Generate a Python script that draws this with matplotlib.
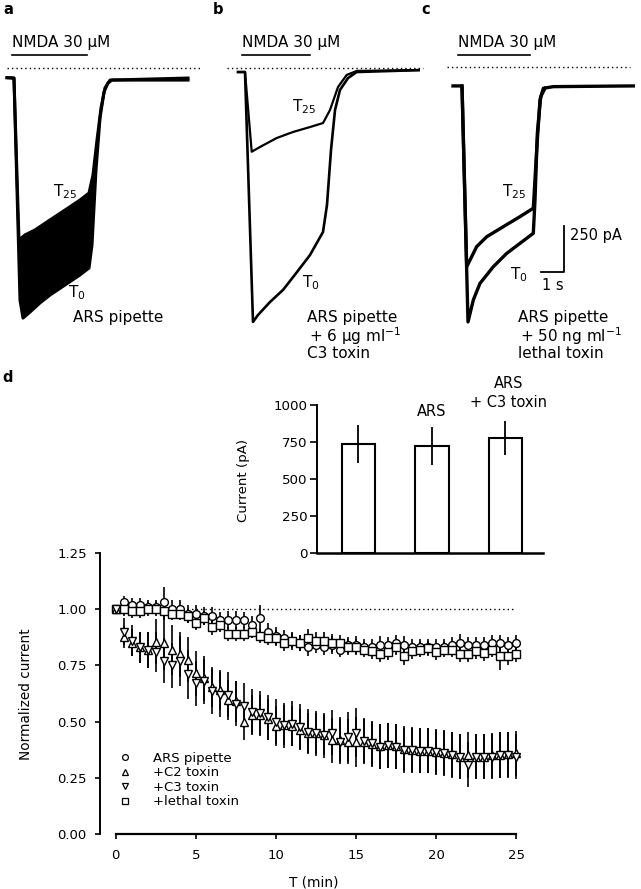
import numpy as np
import matplotlib
matplotlib.use('Agg')
import matplotlib.pyplot as plt
from matplotlib.lines import Line2D

plt.rcParams['font.family'] = ['DejaVu Sans']
plt.rcParams['mathtext.fontset'] = 'dejavusans'

# ---------------- data ----------------
# panel a: ARS pipette, band of superimposed traces (upper / lower envelope)
a_upper_t = [0.30, 0.60, 0.815, 1.073, 1.502, 2.146, 2.790, 3.433, 3.820, 3.991, 4.163, 4.335, 4.506, 4.721, 8.069]
a_upper_i = [-53, -55, -941, -913, -886, -831, -777, -722, -684, -585, -394, -219, -109, -66, -55]
a_lower_t = [0.30, 0.60, 0.858, 0.987, 1.288, 1.717, 2.146, 2.790, 3.433, 3.820, 3.948, 4.120, 4.292, 4.464, 4.635, 4.807, 8.069]
a_lower_i = [-53, -55, -1269, -1368, -1335, -1285, -1242, -1187, -1132, -1094, -968, -558, -274, -131, -82, -66, -66]

# panel b: C3 toxin, T25 and T0 traces
b_t25_t = [1.202, 1.502, 1.790, 2.146, 2.863, 3.562, 4.292, 4.850, 5.150, 5.494, 5.867, 6.296, 9.142]
b_t25_i = [-22, -22, -458, -432, -383, -350, -323, -301, -230, -104, -38, -16, -11]
b_t0_t = [1.202, 1.502, 1.845, 2.060, 2.575, 3.133, 3.734, 4.292, 4.850, 5.021, 5.193, 5.365, 5.579, 5.923, 6.296, 9.142]
b_t0_i = [-22, -22, -1389, -1351, -1280, -1214, -1116, -1023, -897, -749, -449, -230, -120, -55, -22, -11]

# panel c: lethal toxin, T25 and T0 traces
c_t25_t = [1.416, 1.803, 2.004, 2.433, 2.863, 3.575, 4.292, 4.863, 5.007, 5.150, 5.292, 5.721, 9.155]
c_t25_i = [-98, -98, -1087, -977, -923, -868, -813, -767, -449, -175, -111, -102, -98]
c_t0_t = [1.803, 2.060, 2.288, 2.575, 3.146, 3.721, 4.292, 4.863, 4.936, 5.036, 5.179, 5.365]
c_t0_i = [-98, -1389, -1269, -1178, -1087, -1014, -959, -904, -722, -357, -157, -111]

nmda_a = [0.515, 3.734]
nmda_b = [1.373, 4.292]
nmda_c = [1.631, 4.721]
scale_pA = 250
scale_s = 1

# inset bar chart
bar_labels = ['', 'ARS', 'ARS\n+ C3 toxin']
bar_values = [735, 726, 775]
bar_errors = [127, 129, 114]

# panel d time course
t_min = [0.0, 0.5, 1.0, 1.5, 2.0, 2.5, 3.0, 3.5, 4.0, 4.5, 5.0, 5.5, 6.0, 6.5, 7.0, 7.5, 8.0, 8.5, 9.0, 9.5,
         10.0, 10.5, 11.0, 11.5, 12.0, 12.5, 13.0, 13.5, 14.0, 14.5, 15.0, 15.5, 16.0, 16.5, 17.0, 17.5, 18.0, 18.5, 19.0, 19.5,
         20.0, 20.5, 21.0, 21.5, 22.0, 22.5, 23.0, 23.5, 24.0, 24.5, 25.0]
ars = [1.00, 1.03, 1.02, 1.02, 1.01, 1.01, 1.03, 1.00, 1.00, 0.98, 0.98, 0.97, 0.97, 0.95, 0.95, 0.95, 0.95, 0.93, 0.96, 0.90,
       0.88, 0.87, 0.86, 0.85, 0.83, 0.84, 0.83, 0.84, 0.82, 0.84, 0.84, 0.83, 0.83, 0.84, 0.84, 0.85, 0.84, 0.83, 0.83, 0.83,
       0.83, 0.83, 0.84, 0.85, 0.84, 0.84, 0.84, 0.85, 0.85, 0.84, 0.85]
ars_err = [0.00, 0.03, 0.03, 0.03, 0.03, 0.03, 0.07, 0.04, 0.04, 0.04, 0.04, 0.04, 0.04, 0.035, 0.04, 0.04, 0.035, 0.04, 0.06, 0.04,
           0.04, 0.035, 0.04, 0.035, 0.04, 0.035, 0.035, 0.04, 0.035, 0.035, 0.04, 0.035, 0.035, 0.04, 0.035, 0.035, 0.04, 0.035, 0.035, 0.035,
           0.035, 0.035, 0.035, 0.04, 0.035, 0.035, 0.035, 0.035, 0.035, 0.035, 0.035]
c2 = [1.00, 0.875, 0.85, 0.83, 0.82, 0.855, 0.848, 0.818, 0.80, 0.774, 0.715, 0.693, 0.655, 0.64, 0.596, 0.59, 0.50, 0.53, 0.53, 0.51,
      0.48, 0.485, 0.48, 0.465, 0.45, 0.448, 0.44, 0.418, 0.42, 0.41, 0.41, 0.41, 0.40, 0.39, 0.395, 0.39, 0.38, 0.375, 0.37, 0.37,
      0.365, 0.36, 0.355, 0.345, 0.352, 0.345, 0.345, 0.35, 0.352, 0.355, 0.36]
c2_err = [0.00, 0.05, 0.06, 0.07, 0.08, 0.10, 0.12, 0.11, 0.10, 0.10, 0.10, 0.10, 0.09, 0.09, 0.09, 0.09, 0.08, 0.09, 0.09, 0.09,
          0.09, 0.09, 0.09, 0.09, 0.09, 0.09, 0.09, 0.10, 0.10, 0.10, 0.11, 0.10, 0.10, 0.10, 0.10, 0.10, 0.10, 0.10, 0.10, 0.10,
          0.10, 0.10, 0.10, 0.10, 0.10, 0.10, 0.10, 0.10, 0.10, 0.10, 0.10]
c3 = [1.00, 0.90, 0.86, 0.83, 0.82, 0.81, 0.77, 0.75, 0.77, 0.71, 0.67, 0.68, 0.635, 0.62, 0.62, 0.58, 0.57, 0.545, 0.537, 0.52,
      0.50, 0.485, 0.49, 0.478, 0.456, 0.448, 0.44, 0.451, 0.41, 0.433, 0.451, 0.415, 0.404, 0.389, 0.396, 0.389, 0.374, 0.374, 0.371, 0.371,
      0.367, 0.363, 0.352, 0.345, 0.308, 0.345, 0.345, 0.345, 0.352, 0.352, 0.345]
c3_err = [0.00, 0.06, 0.07, 0.07, 0.08, 0.09, 0.10, 0.10, 0.11, 0.11, 0.10, 0.10, 0.10, 0.10, 0.10, 0.10, 0.10, 0.10, 0.10, 0.10,
          0.10, 0.10, 0.10, 0.10, 0.10, 0.10, 0.10, 0.10, 0.10, 0.11, 0.11, 0.10, 0.10, 0.10, 0.10, 0.10, 0.10, 0.10, 0.10, 0.10,
          0.10, 0.10, 0.10, 0.10, 0.10, 0.10, 0.10, 0.10, 0.10, 0.10, 0.10]
leth = [1.00, 1.00, 0.99, 0.99, 1.00, 1.00, 0.99, 0.98, 0.98, 0.97, 0.94, 0.96, 0.92, 0.93, 0.89, 0.89, 0.89, 0.90, 0.88, 0.87,
        0.87, 0.85, 0.86, 0.85, 0.87, 0.86, 0.86, 0.85, 0.85, 0.83, 0.83, 0.82, 0.815, 0.80, 0.81, 0.83, 0.79, 0.815, 0.82, 0.825,
        0.81, 0.82, 0.82, 0.80, 0.80, 0.815, 0.805, 0.82, 0.79, 0.79, 0.80]
leth_err = [0.00, 0.03, 0.03, 0.03, 0.03, 0.03, 0.04, 0.03, 0.03, 0.03, 0.035, 0.03, 0.035, 0.03, 0.03, 0.03, 0.03, 0.03, 0.03, 0.03,
            0.035, 0.035, 0.035, 0.035, 0.04, 0.04, 0.04, 0.04, 0.035, 0.035, 0.035, 0.035, 0.035, 0.035, 0.035, 0.035, 0.04, 0.035, 0.035, 0.035,
            0.035, 0.035, 0.035, 0.035, 0.035, 0.035, 0.035, 0.035, 0.06, 0.04, 0.035]
series_labels = ['ARS pipette', '+C2 toxin', '+C3 toxin', '+lethal toxin']

# ---------------- layout helpers ----------------
W, H = 641, 889
fig = plt.figure(figsize=(W / 100, H / 100), dpi=100)
PX_PER_S = 23.3
PA_PER_PX = 5.47
ZERO_PY = 68


def add_ax(l, t, r, b):
    return fig.add_axes([l / W, 1 - b / H, (r - l) / W, (b - t) / H])


def ftext(px, py, s, **kw):
    fig.text(px / W, 1 - py / H, s, **kw)


def trace_ax(l, r, t=40, b=335):
    ax = add_ax(l, t, r, b)
    ax.set_xlim(0, (r - l) / PX_PER_S)
    ax.set_ylim(-(b - ZERO_PY) * PA_PER_PX, (ZERO_PY - t) * PA_PER_PX)
    ax.axis('off')
    ax.patch.set_alpha(0)
    return ax


dot = (0, (1, 2.2))
fs_panel = 10.5

# ---------------- panel a ----------------
axa = trace_ax(0, 210)
poly_t = list(a_upper_t) + list(a_lower_t[::-1])
poly_i = list(a_upper_i) + list(a_lower_i[::-1])
axa.fill(poly_t, poly_i, color='black', lw=0)
axa.plot(a_upper_t, a_upper_i, color='black', lw=2.2)
axa.plot(a_lower_t, a_lower_i, color='black', lw=2.2)
axa.hlines(0, 0.30, 8.67, colors='black', linestyles=dot, lw=1.0)
axa.plot(nmda_a, [71, 71], color='black', lw=1.2)
axa.text(nmda_a[0], 137, 'NMDA 30 μM', fontsize=11, va='center', ha='left')

# ---------------- panel b ----------------
axb = trace_ax(210, 420)
axb.plot(b_t25_t, b_t25_i, color='black', lw=1.6)
axb.plot(b_t0_t, b_t0_i, color='black', lw=1.9)
axb.hlines(0, 0.73, 9.14, colors='black', linestyles=dot, lw=1.0, clip_on=False)
axb.plot(nmda_b, [71, 71], color='black', lw=1.2)
axb.text(nmda_b[0], 137, 'NMDA 30 μM', fontsize=11, va='center', ha='left')

# ---------------- panel c ----------------
axc = trace_ax(420, 641)
axc.plot(c_t25_t, c_t25_i, color='black', lw=2.4)
axc.plot(c_t0_t, c_t0_i, color='black', lw=2.4)
axc.hlines(5, 1.16, 9.01, colors='black', linestyles=dot, lw=1.0)
axc.plot(nmda_c, [71, 71], color='black', lw=1.2)
axc.text(nmda_c[0], 137, 'NMDA 30 μM', fontsize=11, va='center', ha='left')
sb_t, sb_i = 6.18, -1114
axc.plot([sb_t - scale_s, sb_t, sb_t], [sb_i, sb_i, sb_i + scale_pA], color='black', lw=1.3)
axc.text(sb_t + 0.25, sb_i + scale_pA * 0.8, f'{scale_pA} pA', fontsize=10.5, va='center', ha='left')
axc.text(sb_t - scale_s / 2, sb_i - 75, f'{scale_s} s', fontsize=10.5, va='center', ha='center')

# panel texts
for x, lab in [(8, 'a'), (218, 'b'), (428, 'c'), (8, 'd')]:
    pass
ftext(8, 10, 'a', fontsize=fs_panel, fontweight='bold', va='center', ha='center')
ftext(218, 10, 'b', fontsize=fs_panel, fontweight='bold', va='center', ha='center')
ftext(426, 10, 'c', fontsize=fs_panel, fontweight='bold', va='center', ha='center')
ftext(8, 378, 'd', fontsize=fs_panel, fontweight='bold', va='center', ha='center')

ftsz = 11
ftext(53, 192, r'T$_{25}$', fontsize=ftsz, va='center')
ftext(68, 293, r'T$_{0}$', fontsize=ftsz, va='center')
ftext(73, 318, 'ARS pipette', fontsize=ftsz, va='center')

ftext(292, 107, r'T$_{25}$', fontsize=ftsz, va='center')
ftext(302, 283, r'T$_{0}$', fontsize=ftsz, va='center')
ftext(307, 318, 'ARS pipette', fontsize=ftsz, va='center')
ftext(309, 336, r'+ 6 μg ml$^{-1}$', fontsize=ftsz, va='center')
ftext(307, 354, 'C3 toxin', fontsize=ftsz, va='center')

ftext(502, 192, r'T$_{25}$', fontsize=ftsz, va='center')
ftext(510, 275, r'T$_{0}$', fontsize=ftsz, va='center')
ftext(518, 318, 'ARS pipette', fontsize=ftsz, va='center')
ftext(520, 336, r'+ 50 ng ml$^{-1}$', fontsize=ftsz, va='center')
ftext(518, 354, 'lethal toxin', fontsize=ftsz, va='center')

# ---------------- main time course ----------------
ax = add_ax(100, 541.5, 532.5, 834.3)
ax.patch.set_alpha(0)
ax.set_xlim(-0.97, 26)
ax.set_ylim(0, 1.3)
ax.hlines(1.0, 0, 25, colors='black', linestyles=dot, lw=1.0, zorder=1)

styles = [(ars, ars_err, 'o', 5.6), (leth, leth_err, 's', 5.2), (c2, c2_err, '^', 6.4), (c3, c3_err, 'v', 6.4)]
for vals, errs, mk, ms in styles:
    ax.errorbar(t_min, vals, yerr=errs, fmt=mk, ms=ms, mfc='white', mec='black', mew=1.0,
                ecolor='black', elinewidth=1.2, capsize=0, zorder=3)

for s in ['top', 'right']:
    ax.spines[s].set_visible(False)
ax.spines['left'].set_bounds(0, 1.25)
ax.spines['bottom'].set_bounds(0, 25)
ax.spines['left'].set_linewidth(1.4)
ax.spines['bottom'].set_linewidth(1.6)
ax.set_yticks([0, 0.25, 0.5, 0.75, 1.0, 1.25])
ax.set_yticklabels(['0.00', '0.25', '0.50', '0.75', '1.00', '1.25'])
ax.set_xticks([0, 5, 10, 15, 20, 25])
ax.tick_params(axis='both', labelsize=9.5, width=1.2, length=3.5, direction='out')
ax.tick_params(axis='y', pad=6)
ax.tick_params(axis='x', pad=7)
ax.set_xlabel('T (min)', fontsize=9.8)
ax.set_ylabel('Normalized current', fontsize=9.8)
ax.xaxis.set_label_coords(0.495, -0.14)
ax.yaxis.set_label_coords(-0.155, 0.48)

handles = [Line2D([], [], marker=m, ls='none', mfc='white', mec='black', ms=4.2, mew=0.9)
           for m in ['o', '^', 'v', 's']]
ax.legend(handles, series_labels, loc='upper left', bbox_to_anchor=(0.0425, 0.2824),
          frameon=False, fontsize=9.5, handlelength=1.0, handletextpad=1.6,
          labelspacing=0.12, borderpad=0, borderaxespad=0)

# ---------------- inset bar chart ----------------
axi = add_ax(316.7, 405, 543, 553.3)
axi.patch.set_alpha(0)
xpos = np.arange(len(bar_values))
axi.bar(xpos, bar_values, width=0.453, color='white', edgecolor='black', lw=1.5, zorder=2)
axi.errorbar(xpos, bar_values, yerr=bar_errors, fmt='none', ecolor='black', elinewidth=1.3, capsize=0, zorder=3)
axi.set_xlim(-0.566, 2.51)
axi.set_ylim(0, 1000)
for s in ['top', 'right']:
    axi.spines[s].set_visible(False)
axi.spines['left'].set_linewidth(1.4)
axi.spines['bottom'].set_linewidth(1.8)
axi.set_xticks([])
axi.set_yticks([0, 250, 500, 750, 1000])
axi.tick_params(axis='y', labelsize=9.6, width=1.2, length=5, pad=1.5)
axi.set_ylabel('Current (pA)', fontsize=9.6)
axi.yaxis.set_label_coords(-0.295, 0.49)
for x, lab in zip(xpos, bar_labels):
    lines = lab.split('\n') if lab else []
    if len(lines) == 1:
        axi.text(x, 953, lines[0], fontsize=10.5, ha='center', va='center', clip_on=False)
    elif len(lines) == 2:
        axi.text(x + 0.04, 1148, lines[0], fontsize=10.5, ha='center', va='center', clip_on=False)
        axi.text(x + 0.04, 1014, lines[1], fontsize=10.5, ha='center', va='center', clip_on=False)

fig.savefig('out.png', dpi=100)
